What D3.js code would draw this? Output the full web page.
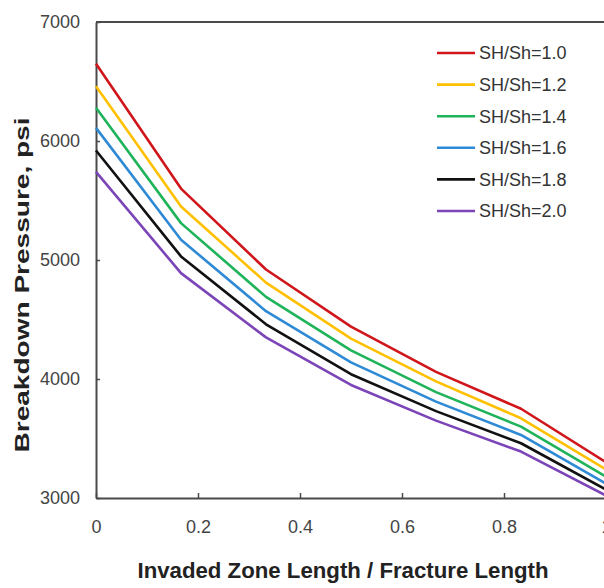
<!DOCTYPE html>
<html>
<head>
<meta charset="utf-8">
<script src="https://cdn.jsdelivr.net/npm/d3@7"></script>
<style>
  body { margin: 0; background: #fff; }
  svg { display: block; }
</style>
</head>
<body>
<div id="chart"></div>
<script>
// data
var ratio = [0, 1/6, 2/6, 3/6, 4/6, 5/6, 1];
var seriesNames = ["SH/Sh=1.0", "SH/Sh=1.2", "SH/Sh=1.4", "SH/Sh=1.6", "SH/Sh=1.8", "SH/Sh=2.0"];
var sh10 = [6650, 5600, 4920, 4440, 4060, 3750, 3300];
var sh12 = [6460, 5450, 4810, 4340, 3980, 3670, 3240];
var sh14 = [6280, 5310, 4690, 4240, 3890, 3600, 3180];
var sh16 = [6110, 5170, 4570, 4140, 3810, 3530, 3120];
var sh18 = [5920, 5030, 4460, 4040, 3730, 3460, 3070];
var sh20 = [5740, 4890, 4350, 3950, 3650, 3390, 3020];
var yTicks = [3000, 4000, 5000, 6000, 7000];
var xTicks = [0, 0.2, 0.4, 0.6, 0.8, 1];

var allSeries = [sh10, sh12, sh14, sh16, sh18, sh20];
var colours = ["#d0161b", "#ffc000", "#1fb35a", "#2f8ad6", "#111111", "#7b45b8"];

var margin = {left: 96, top: 22, right: -2, bottom: 90},
    width = 604 - margin.left - margin.right,
    height = 588 - margin.top - margin.bottom;

var svg = d3.select("#chart").append("svg")
    .attr("width", 604)
    .attr("height", 588);

var x = d3.scaleLinear().domain([0, 1]).range([0, width]),
    y = d3.scaleLinear().domain([3000, 7000]).range([height, 0]);

var g = svg.append("g")
    .attr("transform", "translate(" + margin.left + "," + margin.top + ")");

var axisColour = "#4a4a4a";
var tickFont = "'Liberation Sans', Arial, sans-serif";

// x axis
var xAxis = g.append("g")
    .attr("transform", "translate(0," + height + ")")
    .call(d3.axisBottom(x).tickValues(xTicks)
        .tickFormat(function(d) { return d === 0 || d === 1 ? d3.format("d")(d) : d3.format(".1f")(d); })
        .tickSizeInner(-5).tickSizeOuter(0).tickPadding(22));
xAxis.select(".domain").attr("stroke", axisColour).attr("stroke-width", 2);
xAxis.selectAll(".tick line").attr("stroke", axisColour).attr("stroke-width", 1.5);
xAxis.selectAll(".tick text")
    .attr("fill", "#444")
    .style("font-family", tickFont)
    .style("font-size", "18px");

// y axis
var yAxis = g.append("g")
    .call(d3.axisLeft(y).tickValues(yTicks).tickFormat(d3.format("d"))
        .tickSizeInner(-4).tickSizeOuter(0).tickPadding(16));
yAxis.select(".domain").attr("stroke", axisColour).attr("stroke-width", 2);
yAxis.selectAll(".tick line").attr("stroke", axisColour).attr("stroke-width", 1.5);
yAxis.selectAll(".tick text")
    .attr("fill", "#444")
    .style("font-family", tickFont)
    .style("font-size", "18px");

// top frame line
g.append("line")
    .attr("x1", 0).attr("x2", width)
    .attr("y1", y(7000)).attr("y2", y(7000))
    .attr("stroke", axisColour)
    .attr("stroke-width", 2);

// lines
var line = d3.line()
    .x(function(d, i) { return x(ratio[i]); })
    .y(function(d) { return y(d); });

g.selectAll(".series")
    .data(allSeries)
  .enter().append("path")
    .attr("class", "series")
    .attr("d", line)
    .attr("fill", "none")
    .attr("stroke", function(d, i) { return colours[i]; })
    .attr("stroke-width", 2.6)
    .attr("stroke-linejoin", "round");

// legend
var legend = svg.append("g").attr("transform", "translate(437,53)");
var item = legend.selectAll(".item")
    .data(seriesNames)
  .enter().append("g")
    .attr("class", "item")
    .attr("transform", function(d, i) { return "translate(0," + (i * 31.6) + ")"; });
item.append("line")
    .attr("x1", 0).attr("x2", 38)
    .attr("stroke", function(d, i) { return colours[i]; })
    .attr("stroke-width", 2.6);
item.append("text")
    .attr("x", 42)
    .attr("dy", "0.35em")
    .attr("fill", "#333")
    .style("font-family", tickFont)
    .style("font-size", "18px")
    .text(function(d) { return d; });

// axis titles
svg.append("text")
    .attr("transform", "translate(29,285) rotate(-90)")
    .attr("text-anchor", "middle")
    .attr("fill", "#222")
    .style("font-family", tickFont)
    .style("font-weight", "bold")
    .style("font-size", "21px")
    .attr("textLength", 335)
    .attr("lengthAdjust", "spacingAndGlyphs")
    .text("Breakdown Pressure, psi");

svg.append("text")
    .attr("x", 343)
    .attr("y", 578)
    .attr("text-anchor", "middle")
    .attr("fill", "#222")
    .style("font-family", "'Liberation Sans Narrow', 'Liberation Sans', Arial, sans-serif")
    .style("font-weight", "bold")
    .style("font-size", "22px")
    .attr("textLength", 411)
    .attr("lengthAdjust", "spacingAndGlyphs")
    .text("Invaded Zone Length / Fracture Length");
</script>
</body>
</html>
